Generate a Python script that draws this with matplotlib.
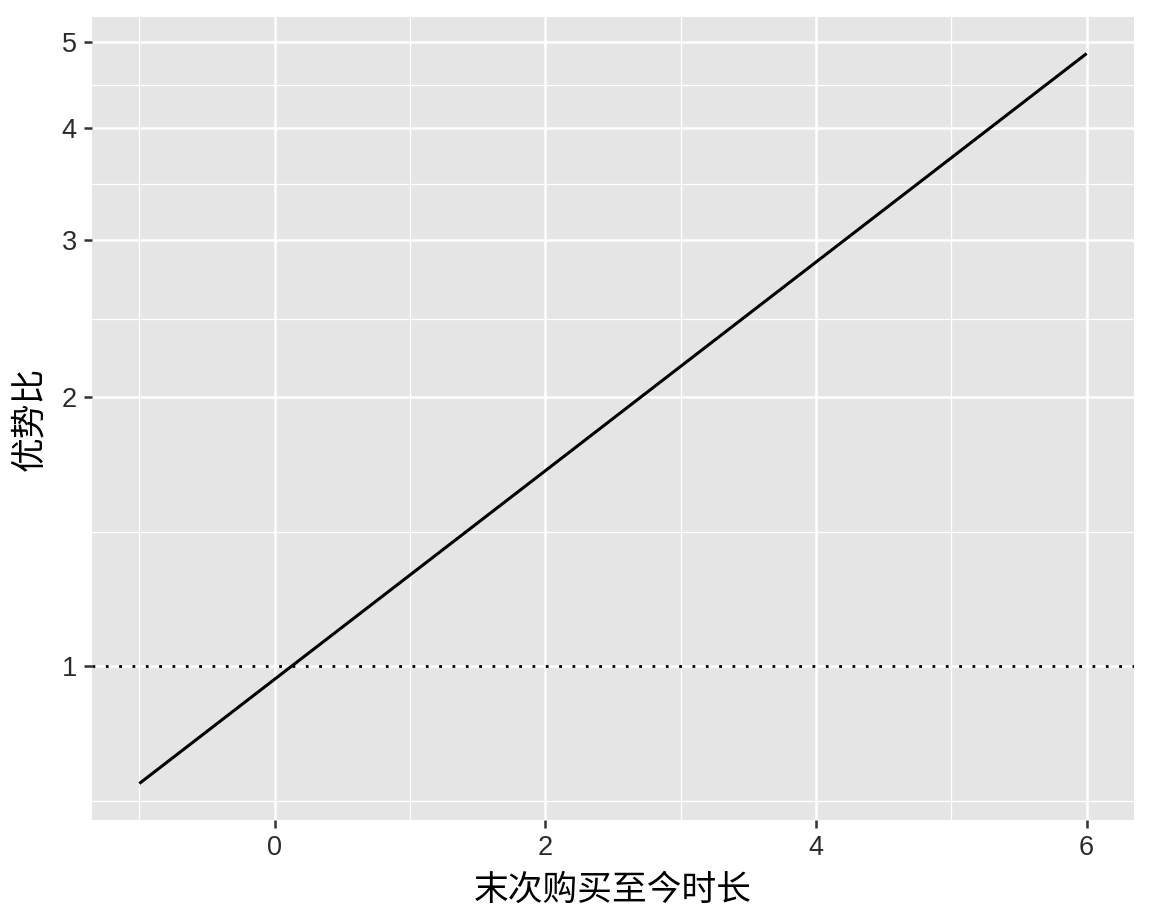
import numpy as np
import matplotlib
matplotlib.use("Agg")
import matplotlib.pyplot as plt
from matplotlib.ticker import FixedLocator, FixedFormatter, NullFormatter

# data
x_vals = [-1, 0, 1, 2, 3, 4, 5, 6]
odds_ratio = [0.739, 0.967, 1.265, 1.655, 2.166, 2.834, 3.708, 4.852]
x_ticks = [0, 2, 4, 6]
x_minor = [-1, 1, 3, 5]
y_ticks = [1, 2, 3, 4, 5]
ref_line = 1
x_label = "末次购买至今时长"
y_label = "优势比"

fig = plt.figure(figsize=(11.52, 9.22), dpi=100)
ax = fig.add_axes([92/1152, 1-820/922, (1134-92)/1152, (820-17)/922])
ax.set_facecolor("#E5E5E5")
for s in ax.spines.values():
    s.set_visible(False)

ax.set_yscale("log")

# expansions like ggplot (5%)
xr = max(x_vals) - min(x_vals)
ax.set_xlim(min(x_vals) - 0.05*xr, max(x_vals) + 0.05*xr)
ly = np.log(odds_ratio)
lr = ly.max() - ly.min()
ax.set_ylim(np.exp(ly.min() - 0.05*lr), np.exp(ly.max() + 0.05*lr))

# gridlines
ext = [0.5] + y_ticks
y_minor = [np.sqrt(ext[i]*ext[i+1]) for i in range(len(ext)-1)]
for v in y_minor:
    ax.axhline(v, color="white", lw=0.9, zorder=0)
for v in y_ticks:
    ax.axhline(v, color="white", lw=1.8, zorder=0)
for v in x_minor:
    ax.axvline(v, color="white", lw=0.9, zorder=0)
for v in x_ticks:
    ax.axvline(v, color="white", lw=1.8, zorder=0)

ax.axhline(ref_line, color="black", lw=2.0, linestyle=(0, (1, 3.8)), zorder=2)
ax.plot(x_vals, odds_ratio, color="black", lw=2.2, solid_capstyle="butt", zorder=3)

ax.yaxis.set_major_locator(FixedLocator(y_ticks))
ax.yaxis.set_major_formatter(FixedFormatter([str(v) for v in y_ticks]))
ax.yaxis.set_minor_locator(FixedLocator([]))
ax.yaxis.set_minor_formatter(NullFormatter())
ax.set_xticks(x_ticks)
ax.set_xticklabels([str(v) for v in x_ticks])

ax.tick_params(axis="both", which="major", length=6, width=1.8, color="#333333",
               labelsize=19.5, labelcolor="#2b2b2b", pad=5)
for lab in ax.get_xticklabels() + ax.get_yticklabels():
    lab.set_family(["Liberation Sans", "DejaVu Sans"])

ax.set_xlabel(x_label, fontsize=25, family=["Noto Sans CJK SC", "DejaVu Sans"], labelpad=8)
ax.set_ylabel(y_label, fontsize=25, family=["Noto Sans CJK SC", "DejaVu Sans"], labelpad=10)

fig.savefig("out.png", dpi=100, facecolor="white")
